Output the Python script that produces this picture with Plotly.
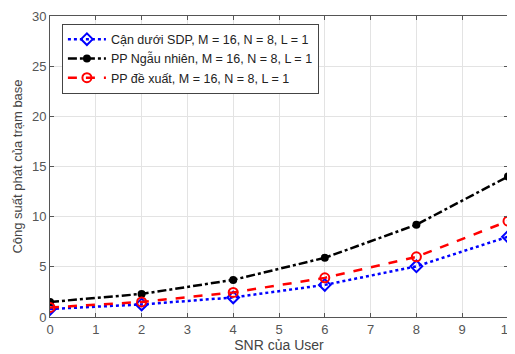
import plotly.graph_objects as go

snr = [0, 2, 4, 6, 8, 10]
sdp_lower = [0.8, 1.25, 1.95, 3.2, 5.05, 8.0]
random_pp = [1.5, 2.3, 3.7, 5.9, 9.2, 14.0]
proposed_pp = [0.95, 1.5, 2.45, 3.9, 6.0, 9.55]

names = ["Cận dưới SDP, M = 16, N = 8, L = 1",
         "PP Ngẫu nhiên, M = 16, N = 8, L = 1",
         "PP đề xuất, M = 16, N = 8, L = 1"]

fig = go.Figure()
fig.add_trace(go.Scatter(x=snr, y=sdp_lower, name=names[0], mode="lines+markers",
                         line=dict(color="blue", width=2.5, dash="dot"),
                         marker=dict(symbol="diamond-open", size=9, color="blue", line=dict(width=2))))
fig.add_trace(go.Scatter(x=snr, y=random_pp, name=names[1], mode="lines+markers",
                         line=dict(color="black", width=2.5, dash="dashdot"),
                         marker=dict(symbol="circle", size=8, color="black")))
fig.add_trace(go.Scatter(x=snr, y=proposed_pp, name=names[2], mode="lines+markers",
                         line=dict(color="red", width=2.5, dash="dash"),
                         marker=dict(symbol="circle-open", size=9, color="red", line=dict(width=2))))

axis_common = dict(showline=True, linecolor="#555555", linewidth=1, mirror="ticks",
                   ticks="inside", ticklen=4, tickcolor="#555555", automargin=False,
                   ticklabeloverflow="allow",
                   showgrid=True, gridcolor="#e3e3e3", zeroline=False,
                   tickfont=dict(family="Arial, Liberation Sans", size=13, color="#555555"))

# page body has an 8px default margin, so the figure is sized to fill the rest of the window
fig.update_layout(
    width=507, height=346,
    margin=dict(l=42, r=7, t=8, b=37),
    paper_bgcolor="white", plot_bgcolor="white",
    font=dict(family="Arial, Liberation Sans", color="#444444"),
    xaxis=dict(range=[0, 10], dtick=1,
               title=dict(text="SNR của User", font=dict(size=14, color="#444444"), standoff=2),
               **axis_common),
    yaxis=dict(range=[0, 30], dtick=5,
               title=dict(text="Công suất phát của trạm base", font=dict(size=13, color="#444444"), standoff=6),
               **axis_common),
    legend=dict(x=0.026, y=0.975, xanchor="left", yanchor="top",
                bgcolor="white", bordercolor="#444444", borderwidth=1,
                font=dict(size=12.5, color="#222222"), tracegroupgap=0, itemwidth=38),
    showlegend=True,
)

fig.write_html("out.html")
